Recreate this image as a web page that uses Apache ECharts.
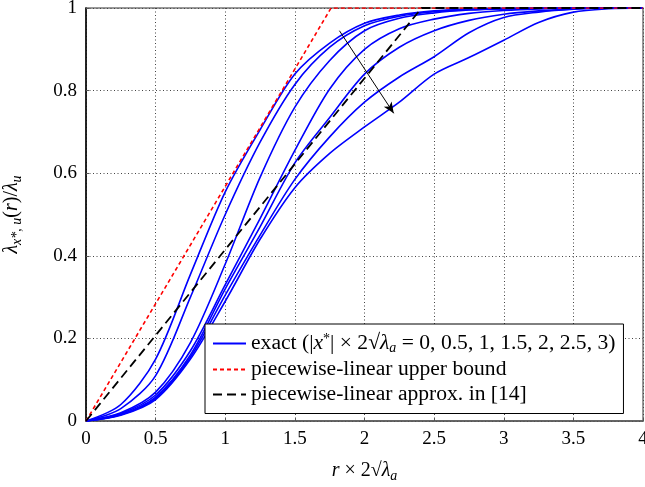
<!DOCTYPE html>
<html>
<head>
<meta charset="utf-8">
<script src="https://cdn.jsdelivr.net/npm/echarts@6/dist/echarts.min.js"></script>
<style>
html, body { margin: 0; padding: 0; background: #fff; }
#chart { width: 645px; height: 487px; }
</style>
</head>
<body>
<div id="chart"></div>
<script>
// horizontal axis: r x 2 sqrt(lambda_a)
const rGrid = [0, 0.25, 0.5, 0.75, 1, 1.25, 1.5, 1.75, 2, 2.25, 2.5, 2.75, 3, 3.25, 3.5, 3.75, 4];

// exact curves, one per |x*| x 2 sqrt(lambda_a)
const xStar = [0, 0.5, 1, 1.5, 2, 2.5, 3];
const exact0 = [0, 0.04, 0.15, 0.355, 0.555, 0.705, 0.84, 0.915, 0.963, 0.983, 0.993, 0.997, 0.999, 1, 1, 1, 1];
const exact1 = [0, 0.03, 0.11, 0.30, 0.50, 0.675, 0.815, 0.905, 0.957, 0.980, 0.991, 0.996, 0.998, 1, 1, 1, 1];
const exact2 = [0, 0.02, 0.07, 0.19, 0.38, 0.59, 0.76, 0.873, 0.945, 0.975, 0.988, 0.995, 0.998, 0.999, 1, 1, 1];
const exact3 = [0, 0.018, 0.063, 0.17, 0.33, 0.49, 0.655, 0.804, 0.90, 0.95, 0.973, 0.987, 0.994, 0.998, 1, 1, 1];
const exact4 = [0, 0.016, 0.058, 0.16, 0.32, 0.47, 0.625, 0.735, 0.84, 0.905, 0.945, 0.97, 0.985, 0.993, 0.998, 1, 1];
const exact5 = [0, 0.015, 0.055, 0.155, 0.305, 0.45, 0.585, 0.688, 0.772, 0.833, 0.882, 0.94, 0.977, 0.99, 0.997, 1, 1];
const exact6 = [0, 0.014, 0.052, 0.15, 0.29, 0.44, 0.565, 0.648, 0.712, 0.772, 0.84, 0.88, 0.922, 0.965, 0.99, 0.998, 1];
const exactAll = [exact0, exact1, exact2, exact3, exact4, exact5, exact6];

// piecewise-linear upper bound
const upperX = [0, 1.76, 4];
const upperY = [0, 1, 1];
// piecewise-linear approx. in [14]
const approxX = [0, 2.41, 4];
const approxY = [0, 1, 1];

// arrow showing increasing |x*|
const arrowFrom = [1.82, 0.945];
const arrowTo = [2.21, 0.745];

const NAME_EXACT = 'exact';
const NAME_UPPER = 'piecewise-linear upper bound';
const NAME_APPROX = 'piecewise-linear approx. in [14]';

const zip = (xs, ys) => xs.map((x, i) => [x, ys[i]]);
const serif = 'Liberation Serif';

const series = [];
exactAll.forEach((ys) => {
    series.push({
        name: NAME_EXACT,
        type: 'line',
        data: zip(rGrid, ys),
        smooth: 0.3,
        showSymbol: false,
        symbol: 'none',
        lineStyle: { color: '#0000ff', width: 1.6 },
        itemStyle: { color: '#0000ff' },
        z: 3
    });
});
series.push({
    name: NAME_UPPER,
    type: 'line',
    data: zip(upperX, upperY),
    showSymbol: false,
    symbol: 'none',
    lineStyle: { color: '#ff0000', width: 1.6, type: [4, 3] },
    itemStyle: { color: '#ff0000' },
    z: 4
});
series.push({
    name: NAME_APPROX,
    type: 'line',
    data: zip(approxX, approxY),
    showSymbol: false,
    symbol: 'none',
    lineStyle: { color: '#000', width: 1.8, type: [9, 5] },
    itemStyle: { color: '#000' },
    z: 5
});
// arrow
series.push({
    type: 'line',
    data: [],
    markLine: {
        silent: true,
        symbol: ['none', 'arrow'],
        symbolSize: [7, 11],
        label: { show: false },
        lineStyle: { color: '#000', width: 1, type: 'solid' },
        data: [[{ coord: arrowFrom }, { coord: arrowTo }]]
    }
});

const legendExact = '{t|exact (|}{i|x}{sup|*}{t|| × 2√}{i|λ}{sub|a}{t| = ' + xStar.join(', ') + ')}';

const nameRich = {
    t: { fontFamily: serif, fontSize: 20, color: '#000' },
    i: { fontFamily: serif, fontStyle: 'italic', fontSize: 20, color: '#000' },
    sub: { fontFamily: serif, fontStyle: 'italic', fontSize: 14, color: '#000', padding: [11, 0, 0, 0] }
};

const chart = echarts.init(document.getElementById('chart'));
chart.setOption({
    animation: false,
    backgroundColor: '#fff',
    grid: {
        left: 86, right: 2, top: 8, bottom: 66,
        containLabel: false,
        outerBoundsMode: 'none',
        show: true,
        borderColor: '#777',
        borderWidth: 1.5
    },
    xAxis: {
        type: 'value',
        min: 0, max: 4, interval: 0.5,
        name: '{i|r}{t| × 2√}{i|λ}{sub|a}',
        nameLocation: 'middle',
        nameGap: 37,
        nameTextStyle: { fontFamily: serif, fontSize: 20, color: '#000', rich: nameRich },
        axisLine: { show: true, lineStyle: { color: '#555', width: 1.5 } },
        axisTick: { show: true, inside: true, length: 3, lineStyle: { color: '#555' } },
        axisLabel: { fontFamily: serif, fontSize: 19, color: '#000', margin: 9 },
        splitLine: { show: true, lineStyle: { color: '#444', width: 1, type: [1, 2.5] } }
    },
    yAxis: {
        type: 'value',
        min: 0, max: 1, interval: 0.2,
        name: '{i|λ}{sub|x*, u}{t|(}{i|r}{t|)/}{i|λ}{sub|u}',
        nameLocation: 'middle',
        nameRotate: 90,
        nameGap: 62,
        nameTextStyle: { fontFamily: serif, fontSize: 20, color: '#000', rich: nameRich },
        axisLine: { show: true, lineStyle: { color: '#000', width: 1.5 } },
        axisTick: { show: true, inside: true, length: 3, lineStyle: { color: '#555' } },
        axisLabel: { fontFamily: serif, fontSize: 19, color: '#000', margin: 9 },
        splitLine: { show: true, lineStyle: { color: '#444', width: 1, type: [1, 2.5] } }
    },
    legend: {
        data: [NAME_EXACT, NAME_UPPER, NAME_APPROX],
        orient: 'vertical',
        left: 205,
        top: 324,
        padding: [8, 8, 8, 7],
        itemGap: 3,
        itemWidth: 33,
        itemHeight: 21,
        itemStyle: { opacity: 0 },
        backgroundColor: '#fff',
        borderColor: '#000',
        borderWidth: 1,
        borderRadius: 0,
        selectedMode: false,
        formatter: (name) => name === NAME_EXACT ? legendExact : '{t|' + name + '}',
        textStyle: {
            fontFamily: serif, fontSize: 21.6, color: '#000',
            rich: {
                t: { fontFamily: serif, fontSize: 21.6, color: '#000' },
                i: { fontFamily: serif, fontStyle: 'italic', fontSize: 21.6, color: '#000' },
                sup: { fontFamily: serif, fontSize: 14, color: '#000', padding: [0, 0, 9, 0] },
                sub: { fontFamily: serif, fontStyle: 'italic', fontSize: 14, color: '#000', padding: [10, 0, 0, 0] }
            }
        }
    },
    series: series
});
</script>
</body>
</html>
